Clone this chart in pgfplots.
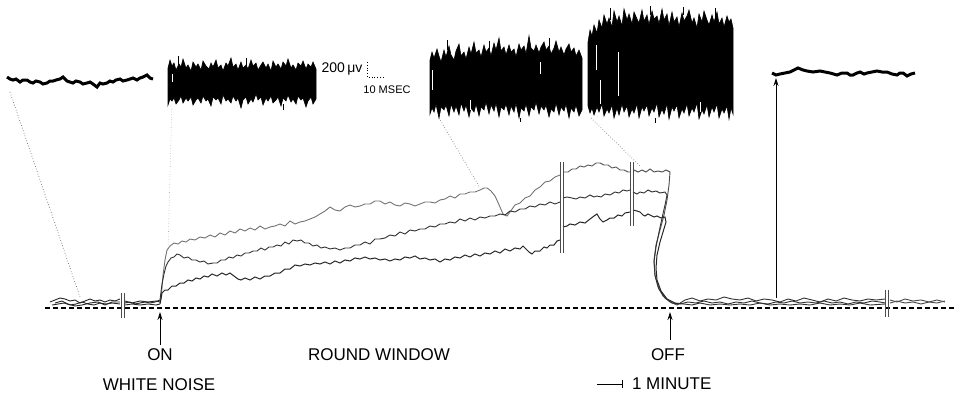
\documentclass[border=0pt]{standalone}
\usepackage{pgfplots}
\pgfplotsset{compat=1.18}
\usepackage{fontspec}
\setmainfont{Liberation Sans}
\usetikzlibrary{arrows.meta}
\begin{document}
\begin{tikzpicture}
\begin{axis}[width=483.5pt,height=198pt,scale only axis,
  xmin=0,xmax=967,ymin=0,ymax=396,y dir=reverse,hide axis,clip=false,unbounded coords=jump]
\draw[draw=none] (axis cs:0,0) rectangle (axis cs:967,396);
% baseline
\addplot[black,line width=0.6pt,dash pattern=on 2.5pt off 1.5pt] coordinates {(45,308)(955,308)};
% inset 1 (pre)
\addplot[black,line width=1.5pt] coordinates {(7,77)(10,79)(13,80)(16,79)(20,82)(23,80)(27,80)(30,82)(33,83)(36,81)(40,82)(43,84)(47,83)(50,81)(53,81)(56,80)(60,79)(63,77)(67,81)(70,82)(73,83)(76,81)(80,82)(83,84)(87,83)(90,82)(93,84)(97,87)(100,83)(103,84)(107,83)(110,81)(113,82)(116,80)(120,79)(123,81)(127,80)(130,79)(133,78)(137,80)(140,78)(143,77)(147,75)(150,78)(153,79)};
% inset 5 (post)
\addplot[black,line width=1.5pt] coordinates {(772,73)(776,75)(780,74)(785,73)(790,72)(794,70)(798,68)(803,70)(807,71)(813,72)(820,71)(825,72)(830,73)(837,75)(842,73)(847,73)(850,75)(853,75)(857,73)(860,72)(864,74)(867,73)(872,72)(877,71)(882,72)(887,72)(892,74)(897,75)(900,73)(903,73)(907,76)(911,74)(915,73)};
% inset 2
\addplot[black,fill=black,line width=0.3pt] coordinates {(168,68)(170,60)(172,66)(174,63)(176,70)(179,64)(181,67)(183,59)(186,68)(188,65)(191,71)(193,62)(196,67)(198,64)(201,70)(203,61)(206,66)(209,69)(211,63)(213,67)(216,60)(218,68)(221,65)(223,71)(226,63)(228,66)(231,58)(233,67)(236,64)(238,70)(241,62)(243,68)(246,65)(248,69)(251,60)(253,66)(256,63)(258,70)(261,65)(263,62)(266,68)(268,64)(271,71)(273,61)(276,67)(278,64)(281,69)(283,62)(286,66)(288,59)(291,68)(293,65)(296,70)(298,63)(301,66)(303,61)(306,69)(308,64)(311,67)(313,62)(316,69)
(316,99)(313,104)(311,97)(308,101)(306,107)(303,98)(301,100)(298,96)(296,104)(293,99)(291,102)(288,95)(286,101)(283,98)(281,106)(278,97)(276,100)(273,103)(271,96)(268,101)(266,98)(263,105)(261,97)(258,100)(256,94)(253,102)(251,99)(248,104)(246,97)(243,100)(241,108)(238,98)(236,101)(233,96)(231,103)(228,99)(226,101)(223,95)(221,104)(218,98)(216,100)(213,97)(211,106)(208,99)(206,101)(203,96)(201,103)(198,98)(196,100)(193,105)(191,97)(188,101)(186,98)(183,103)(181,96)(179,100)(176,104)(174,98)(172,101)(170,99)(168,105)} -- cycle;
% inset 3
\addplot[black,fill=black,line width=0.3pt] coordinates {(430,60)(432,52)(434,58)(437,49)(439,56)(441,62)(444,50)(446,57)(449,46)(451,55)(454,60)(456,51)(459,44)(461,56)(464,52)(466,59)(469,47)(471,54)(474,42)(476,53)(479,50)(481,57)(484,45)(486,52)(489,48)(491,56)(494,43)(496,50)(499,38)(501,51)(504,47)(506,55)(509,45)(511,52)(514,49)(516,57)(519,44)(521,50)(524,46)(526,54)(529,36)(531,48)(534,51)(536,45)(539,53)(541,47)(544,42)(546,50)(549,46)(551,54)(554,48)(556,41)(559,52)(561,47)(564,55)(566,49)(569,44)(571,52)(574,48)(576,56)(579,50)(582,58)
(582,110)(579,116)(576,105)(574,112)(571,108)(569,118)(566,104)(564,111)(561,107)(559,115)(556,103)(554,112)(551,109)(549,117)(546,105)(544,110)(541,106)(539,114)(536,102)(534,110)(531,107)(529,116)(526,104)(524,111)(521,108)(519,118)(516,103)(514,112)(511,106)(509,115)(506,104)(504,110)(501,107)(499,117)(496,103)(494,111)(491,105)(489,114)(486,102)(484,110)(481,107)(479,116)(476,104)(474,112)(471,108)(469,117)(466,105)(464,111)(461,103)(459,115)(456,106)(454,112)(451,104)(449,116)(446,105)(444,110)(441,107)(439,118)(436,104)(434,112)(432,108)(430,114)} -- cycle;
% inset 4
\addplot[black,fill=black,line width=0.3pt] coordinates {(588,42)(590,30)(592,36)(594,25)(597,33)(599,20)(602,28)(604,15)(607,24)(609,18)(612,27)(614,11)(617,22)(619,16)(622,26)(624,9)(627,20)(629,14)(632,24)(634,12)(637,19)(639,23)(642,10)(644,21)(647,15)(649,25)(652,11)(654,19)(657,16)(659,24)(662,9)(664,20)(667,14)(669,26)(672,12)(674,22)(677,17)(679,27)(682,13)(684,21)(687,16)(689,10)(692,23)(694,18)(697,28)(699,14)(702,22)(704,11)(707,20)(709,25)(712,15)(714,22)(717,12)(719,24)(722,18)(724,27)(727,16)(729,22)(731,19)(733,28)
(733,114)(731,108)(729,119)(727,106)(724,113)(722,109)(719,118)(717,104)(714,112)(712,107)(709,117)(707,105)(704,114)(702,110)(699,119)(697,103)(694,112)(692,108)(689,116)(687,104)(684,113)(682,109)(679,118)(677,105)(674,111)(672,107)(669,119)(667,104)(664,114)(662,109)(659,117)(657,103)(654,112)(652,108)(649,116)(647,105)(644,111)(642,107)(639,118)(637,104)(634,113)(632,109)(629,117)(627,106)(624,112)(622,104)(619,115)(617,108)(614,118)(612,105)(609,113)(607,109)(604,116)(602,104)(599,112)(597,107)(594,115)(592,108)(590,113)(588,106)} -- cycle;
% white streaks inside noise
\addplot[white,line width=0.5pt] coordinates {(618,52)(618,96) (nan,nan) (596,45)(596,70) (nan,nan) (600,80)(600,104) (nan,nan) (432,70)(432,90) (nan,nan) (540,62)(540,74) (nan,nan) (470,100)(470,110) (nan,nan) (700,102)(700,112) (nan,nan) (172,74)(172,82)};
% thin spikes
\addplot[black,line width=0.5pt] coordinates {(178,56)(178,66) (nan,nan) (246,58)(246,66) (nan,nan) (283,104)(283,110) (nan,nan) (447,40)(447,50) (nan,nan) (489,41)(489,50) (nan,nan) (549,38)(549,48) (nan,nan) (520,118)(520,122) (nan,nan) (610,8)(610,20) (nan,nan) (650,6)(650,15) (nan,nan) (683,7)(683,15) (nan,nan) (715,8)(715,18) (nan,nan) (655,118)(655,123)};
% scale bar
\addplot[black,line width=0.4pt,densely dotted] coordinates {(367,62)(367,77)(385,77)};
\node[font=\fontsize{7}{8}\selectfont] at (axis cs:342,69) {200\,μv};
\node[font=\fontsize{5.5}{6}\selectfont] at (axis cs:387,90) {10 MSEC};
% pointer lines
\addplot[black!60,line width=0.35pt,densely dotted] coordinates {(10,92)(80,297)};
\addplot[black!50,line width=0.35pt,densely dotted] coordinates {(439,118)(480,188)};
\addplot[black!50,line width=0.35pt,densely dotted] coordinates {(591,118)(640,166)};
\addplot[black!30,line width=0.3pt,densely dotted] coordinates {(168,250)(172,100)};
\addplot[black,line width=0.4pt,-{Stealth[length=3pt,width=2pt]}] coordinates {(172,100)(172,84)};
% pre-noise traces
\addplot[black!85,line width=0.45pt] coordinates {(50,302)(55,300)(60,298)(65,299)(70,301)(75,300)(80,303)(85,301)(90,299)(95,301)(100,300)(105,302)(110,300)(115,301)(120,299)};
\addplot[black!85,line width=0.45pt] coordinates {(52,305)(58,304)(64,303)(70,305)(76,304)(82,302)(88,304)(94,305)(100,303)(106,304)(112,303)(120,304)};
\addplot[black!85,line width=0.45pt] coordinates {(55,303)(62,301)(68,304)(75,306)(82,305)(90,303)(98,302)(105,305)(112,302)(120,302)};
\addplot[black!85,line width=0.45pt] coordinates {(125,303)(130,302)(135,304)(140,303)(145,302)(150,303)(155,302)(160,300)};
\addplot[black!85,line width=0.45pt] coordinates {(125,305)(132,304)(140,305)(148,304)(156,305)(160,304)};
\addplot[black!85,line width=0.45pt] coordinates {(125,301)(132,303)(140,301)(148,302)(156,301)(160,302)};
% top curve
\addplot[black!55,line width=0.45pt] coordinates {(160,303)(161,298)(162,288)(163,275)(165,260)(167,250)(170,246)(174,243)(178,244)(182,241)(186,242)(190,239)(195,240)(200,237)(205,238)(210,235)(215,237)(220,233)(225,235)(230,231)(235,233)(240,229)(245,231)(250,228)(255,230)(260,226)(265,229)(270,227)(275,226)(280,224)(285,226)(290,221)(295,224)(300,222)(305,221)(310,219)(315,217)(320,214)(325,211)(330,207)(335,210)(340,211)(345,207)(350,205)(355,207)(360,206)(365,204)(370,204)(375,201)(380,201)(385,204)(390,202)(395,205)(400,206)(405,203)(410,204)(415,206)(420,204)(425,202)(430,202)(435,203)(440,200)(445,199)(450,196)(455,198)(460,194)(465,194)(470,192)(475,192)(480,190)(484,188)(487,188)(491,191)(495,196)(500,207)(503,214)(507,216)(510,212)(515,205)(520,203)(525,198)(530,196)(535,190)(540,187)(545,182)(550,181)(555,177)(560,175)};
\addplot[black!65,line width=0.45pt] coordinates {(564,172)(568,172)(572,169)(576,169)(580,166)(584,167)(588,165)(592,166)(596,163)(600,163)(604,165)(608,165)(612,168)(616,167)(620,170)(624,170)(628,172)(630,172)};
\addplot[black!70,line width=0.45pt] coordinates {(634,170)(638,172)(642,170)(646,172)(650,169)(654,172)(658,171)(662,172)(666,170)(670,172)(669,185)(667,200)(664,215)(660,230)(656,245)(654,260)(655,275)(658,287)(663,296)(670,302)(677,305)};
% middle curve
\addplot[black!80,line width=0.45pt] coordinates {(160,300)(161,292)(162,284)(164,274)(166,266)(168,262)(171,258)(174,257)(177,254)(180,255)(184,258)(188,257)(192,260)(196,260)(200,262)(204,261)(208,264)(213,263)(217,263)(221,260)(225,260)(229,257)(233,258)(237,255)(241,256)(245,253)(249,253)(253,251)(257,251)(261,248)(265,250)(269,247)(273,247)(277,245)(281,246)(285,242)(289,244)(293,240)(297,241)(301,240)(305,243)(309,243)(313,246)(317,245)(321,248)(325,247)(330,249)(335,248)(340,250)(345,248)(350,248)(355,245)(360,245)(365,242)(370,244)(375,239)(380,239)(385,238)(390,235)(395,236)(400,232)(405,234)(410,230)(415,231)(420,229)(425,229)(430,226)(435,227)(440,224)(445,224)(450,222)(455,223)(460,219)(465,221)(470,218)(475,220)(480,217)(485,218)(490,216)(495,216)(500,214)(505,215)(510,211)(515,212)(520,209)(525,209)(530,206)(535,207)(540,204)(545,205)(550,202)(555,204)(560,202)};
\addplot[black!80,line width=0.45pt] coordinates {(563,198)(567,197)(572,198)(576,199)(580,197)(585,198)(590,195)(594,197)(597,196)(601,197)(605,194)(610,195)(615,192)(619,193)(623,190)(627,191)(630,190)};
\addplot[black!80,line width=0.45pt] coordinates {(633,192)(637,194)(640,192)(644,193)(648,190)(652,192)(656,191)(660,193)(665,192)(667,195)(665,205)(662,218)(659,232)(656,247)(654,262)(655,276)(659,289)(665,298)(672,303)(680,304)};
% bottom curve
\addplot[black!85,line width=0.5pt] coordinates {(160,304)(161,299)(162,293)(165,290)(168,290)(172,286)(176,286)(180,283)(184,283)(188,280)(192,281)(196,278)(200,279)(204,276)(208,277)(212,274)(217,276)(222,273)(226,275)(230,273)(234,276)(238,279)(241,280)(245,278)(250,280)(255,277)(260,279)(265,276)(270,276)(275,273)(280,273)(285,269)(290,269)(295,265)(300,266)(305,264)(310,265)(315,263)(320,264)(325,262)(330,264)(335,261)(340,263)(345,260)(350,261)(355,258)(360,259)(365,257)(370,259)(375,258)(380,260)(385,259)(390,261)(395,259)(400,260)(405,257)(410,258)(415,256)(420,259)(425,258)(430,260)(435,259)(440,262)(445,259)(450,260)(455,257)(460,258)(465,255)(470,257)(475,254)(480,256)(485,253)(490,254)(495,251)(500,253)(505,249)(510,251)(515,248)(520,249)(523,246)(526,249)(529,252)(532,254)(535,251)(540,251)(544,247)(547,248)(550,245)(554,245)(557,241)(560,240)};
\addplot[black!85,line width=0.5pt] coordinates {(563,227)(567,226)(570,224)(575,225)(580,222)(585,223)(590,219)(594,216)(597,214)(600,219)(603,222)(607,220)(610,218)(614,218)(618,215)(622,216)(625,213)(630,212)};
\addplot[black!85,line width=0.5pt] coordinates {(633,210)(637,211)(640,212)(643,215)(645,216)(648,214)(650,215)(654,217)(657,216)(661,218)(665,217)(666,222)(663,232)(660,242)(657,255)(656,268)(657,280)(661,291)(667,299)(675,303)(684,304)};
% post-off traces
\addplot[black!80,line width=0.45pt] coordinates {(677,305)(685,300)(692,298)(700,301)(708,299)(716,300)(724,297)(732,299)(740,300)(748,298)(756,301)(764,299)(772,300)(780,302)(788,299)(796,301)(804,298)(812,300)(820,302)(828,299)(836,301)(844,298)(852,300)(860,301)(868,299)(876,300)(885,299)};
\addplot[black!80,line width=0.45pt] coordinates {(680,304)(688,302)(696,303)(704,301)(712,303)(720,302)(728,304)(736,302)(744,303)(752,301)(760,303)(768,304)(776,302)(784,303)(792,301)(800,303)(808,302)(816,303)(824,301)(832,303)(840,302)(848,304)(856,302)(864,303)(872,301)(880,302)(885,303)};
\addplot[black!80,line width=0.45pt] coordinates {(684,304)(692,305)(700,303)(710,305)(720,304)(730,305)(740,304)(750,305)(760,303)(770,305)(780,304)(790,305)(800,304)(810,305)(820,303)(830,305)(840,304)(850,305)(860,303)(870,305)(885,304)};
\addplot[black!70,line width=0.45pt] coordinates {(890,300)(897,302)(905,299)(913,301)(921,300)(929,302)(937,300)(945,302)};
\addplot[black!70,line width=0.45pt] coordinates {(890,303)(897,301)(905,303)(913,302)(921,304)(929,302)(937,303)(945,301)};
% break marks
\addplot[black!70,line width=0.4pt] coordinates {(121.5,293)(121.5,318) (nan,nan) (124.5,293)(124.5,318)};
\addplot[black!70,line width=0.4pt] coordinates {(560,162)(560,253) (nan,nan) (563,162)(563,253)};
\addplot[black!70,line width=0.4pt] coordinates {(630,162)(630,226) (nan,nan) (633,162)(633,226)};
\addplot[black!70,line width=0.4pt] coordinates {(885.5,290)(885.5,317) (nan,nan) (888.5,290)(888.5,317)};
% arrows
\addplot[black,line width=0.5pt,-{Stealth[length=4pt,width=2.5pt]}] coordinates {(160,345)(160,312)};
\addplot[black,line width=0.5pt,-{Stealth[length=4pt,width=2.5pt]}] coordinates {(670,340)(670,312)};
\addplot[black,line width=0.5pt,-{Stealth[length=4pt,width=2.5pt]}] coordinates {(776,298)(776,78)};
% 1 minute bar
\addplot[black,line width=0.5pt] coordinates {(597,384)(622,384)};
\addplot[black,line width=0.5pt] coordinates {(622,380)(622,388)};
% labels
\node[font=\fontsize{8.5}{10}\selectfont] at (axis cs:160,355) {ON};
\node[font=\fontsize{8.5}{10}\selectfont] at (axis cs:159,385) {WHITE NOISE};
\node[font=\fontsize{8.5}{10}\selectfont] at (axis cs:379,355) {ROUND WINDOW};
\node[font=\fontsize{8.5}{10}\selectfont] at (axis cs:668,355) {OFF};
\node[font=\fontsize{8.5}{10}\selectfont,anchor=west] at (axis cs:625,384) {1 MINUTE};
\end{axis}
\end{tikzpicture}
\end{document}
